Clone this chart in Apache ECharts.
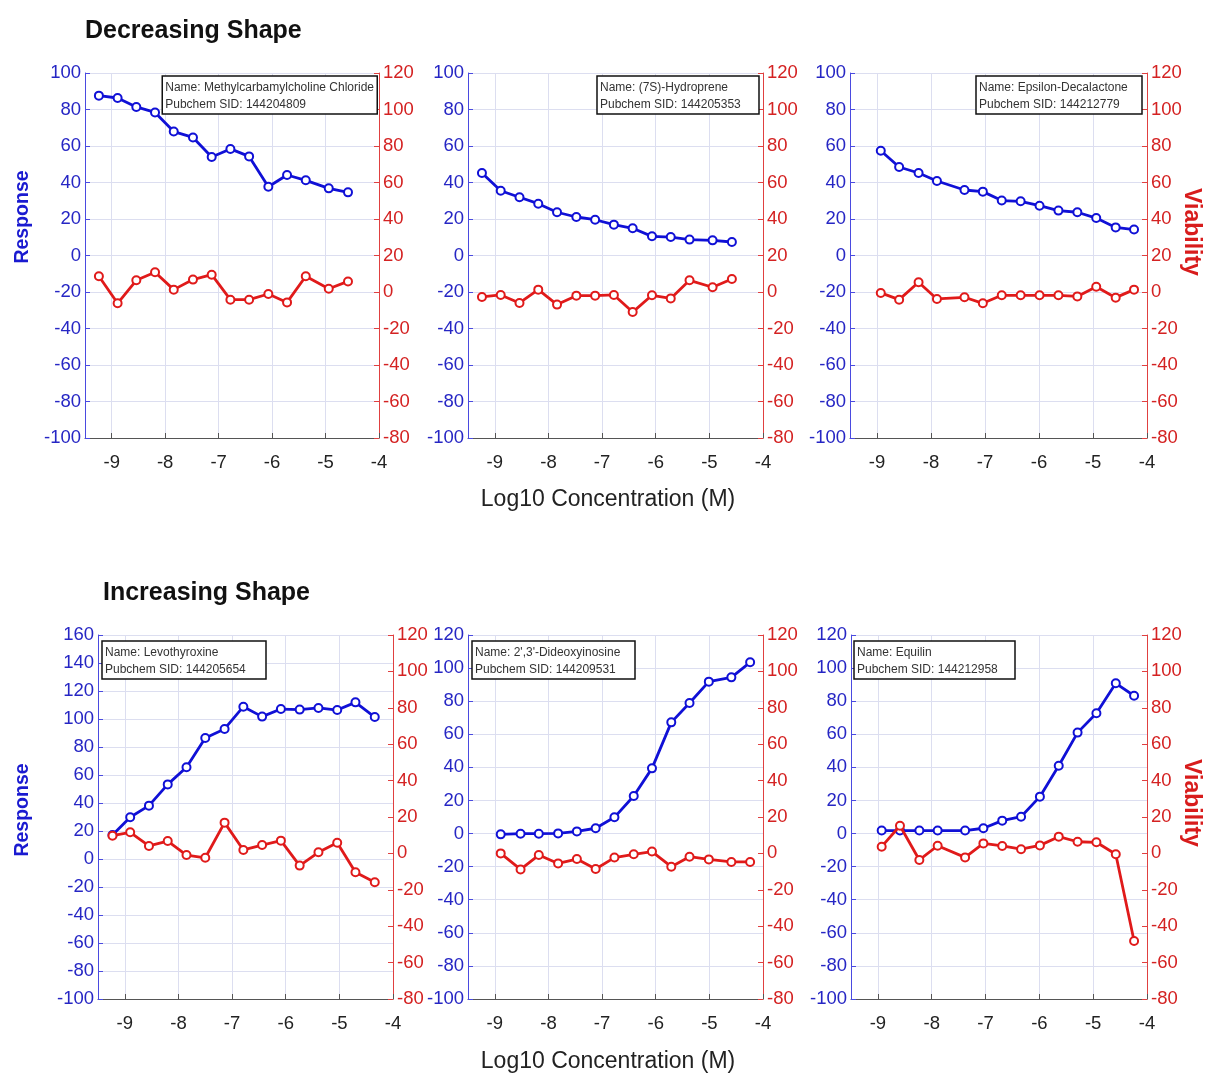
<!DOCTYPE html>
<html>
<head>
<meta charset="utf-8">
<script src="https://cdn.jsdelivr.net/npm/echarts@6/dist/echarts.min.js"></script>
<style>
html,body{margin:0;padding:0;background:#fff;}
#chart{width:1206px;height:1074px;}
</style>
</head>
<body>
<div id="chart"></div>
<script>
// ---------------- data ----------------
const xTicks = [-9, -8, -7, -6, -5, -4];

const concA = [-9.24, -8.89, -8.54, -8.19, -7.84, -7.48, -7.13, -6.78, -6.43, -6.07, -5.72, -5.37, -4.94, -4.58];
const concB = [-8.93, -8.59, -8.23, -7.89, -7.38, -7.04, -6.69, -6.34, -5.99, -5.64, -5.29, -4.94, -4.58, -4.24];
const concC = [-8.89, -8.52, -8.18, -7.82, -7.47, -7.12, -6.77, -6.41, -6.07, -5.71, -5.37, -5.01, -4.59, -4.24];
const concD = [-9.23, -8.90, -8.55, -8.20, -7.85, -7.50, -7.14, -6.79, -6.44, -6.09, -5.74, -5.39, -5.04, -4.70, -4.34];

const p1Resp = [87.6, 86.3, 81.4, 78.4, 67.9, 64.7, 54.0, 58.4, 54.3, 37.7, 44.1, 41.2, 36.8, 34.6];
const p1Via  = [8.6, -6.2, 6.4, 10.8, 1.3, 6.8, 9.5, -4.2, -4.2, -1.1, -5.7, 8.6, 1.8, 5.8];
const p2Resp = [45.2, 35.5, 31.9, 28.4, 23.7, 21.1, 19.6, 16.9, 14.9, 10.5, 10.1, 8.7, 8.3, 7.4];
const p2Via  = [-2.7, -1.6, -6.0, 1.3, -6.9, -2.0, -2.0, -1.6, -11.0, -1.8, -3.5, 6.4, 2.6, 7.1];
const p3Resp = [57.4, 48.5, 45.2, 40.8, 35.9, 35.0, 30.1, 29.7, 27.3, 24.6, 23.7, 20.5, 15.4, 14.2];
const p3Via  = [-0.5, -4.2, 5.3, -3.8, -2.9, -6.2, -1.8, -1.8, -1.8, -1.8, -2.4, 2.9, -3.1, 1.3];
const p4Resp = [17.1, 29.8, 38.1, 53.3, 65.5, 86.4, 92.9, 108.8, 101.7, 107.1, 106.7, 107.9, 106.4, 111.9, 101.4];
const p4Via  = [9.7, 11.6, 4.1, 6.8, -0.9, -2.4, 16.9, 1.9, 4.6, 7.0, -6.7, 0.6, 5.9, -10.4, -15.9];
const p5Resp = [-0.5, -0.1, -0.1, 0.1, 1.3, 3.2, 9.8, 22.7, 39.4, 67.2, 78.9, 91.8, 94.4, 103.5];
const p5Via  = [0.0, -8.8, -0.9, -5.5, -3.1, -8.6, -2.3, -0.5, 1.0, -7.3, -1.8, -3.3, -4.7, -4.7];
const p6Resp = [1.8, 1.8, 1.8, 1.8, 1.8, 3.2, 7.8, 10.2, 22.3, 41.0, 61.0, 72.7, 90.8, 83.3];
const p6Via  = [3.7, 15.2, -3.6, 4.2, -2.2, 5.5, 4.1, 2.3, 4.4, 9.2, 6.4, 6.1, -0.5, -48.1];

const names = ['Methylcarbamylcholine Chloride', '(7S)-Hydroprene', 'Epsilon-Decalactone',
               'Levothyroxine', "2',3'-Dideoxyinosine", 'Equilin'];
const sids  = ['144204809', '144205353', '144212779', '144205654', '144209531', '144212958'];
const leftMax = [100, 100, 100, 160, 120, 120];
const leftMin = -100, rightMin = -80, rightMax = 120, yStep = 20;
const xMin = -9.5, xMax = -4;

const panelX = [concA, concA, concB, concD, concC, concB];
const panelResp = [p1Resp, p2Resp, p3Resp, p4Resp, p5Resp, p6Resp];
const panelVia  = [p1Via, p2Via, p3Via, p4Via, p5Via, p6Via];

// ---------------- layout ----------------
const grids = [
  {left: 85,  top: 73,  width: 294, height: 365},
  {left: 468, top: 73,  width: 295, height: 365},
  {left: 850, top: 73,  width: 297, height: 365},
  {left: 98,  top: 635, width: 295, height: 364},
  {left: 468, top: 635, width: 295, height: 364},
  {left: 851, top: 635, width: 296, height: 364}
];
const boxPos = [
  {right: 829, top: 76, w: 207},
  {right: 447, top: 76, w: 156},
  {right: 64,  top: 76, w: 160},
  {left: 102, top: 641, w: 158},
  {left: 472, top: 641, w: 157},
  {left: 854, top: 641, w: 155}
];

const BLUE = '#1010d6', RED = '#e01a1a';
const BLUE_T = '#2626c4', RED_T = '#d42222';
const GRID = '#dcdef0';
const TICKF = "'Liberation Sans',Arial,sans-serif";
const SANS = "'Liberation Sans',Arial,sans-serif";

const xAxes = [], yAxes = [], series = [], titles = [];
grids.forEach((g, i) => {
  xAxes.push({
    type: 'value', gridIndex: i, min: xMin, max: xMax,
    axisLine: {show: true, onZero: false, lineStyle: {color: '#555', width: 1}},
    axisTick: {show: true, inside: true, length: 5, customValues: xTicks, lineStyle: {color: '#555'}},
    axisLabel: {customValues: xTicks, color: '#222', fontFamily: TICKF, fontSize: 18.5, margin: 15},
    splitLine: {show: true, lineStyle: {color: GRID, width: 1}}
  });
  yAxes.push({
    type: 'value', gridIndex: i, position: 'left', min: leftMin, max: leftMax[i], interval: yStep,
    axisLine: {show: true, onZero: false, lineStyle: {color: '#4a4ae0', width: 1}},
    axisTick: {show: true, inside: true, length: 5, lineStyle: {color: '#4a4ae0'}},
    axisLabel: {color: BLUE_T, fontFamily: TICKF, fontSize: 18.5, margin: 4},
    splitLine: {show: true, lineStyle: {color: GRID, width: 1}}
  });
  yAxes.push({
    type: 'value', gridIndex: i, position: 'right', min: rightMin, max: rightMax, interval: yStep,
    axisLine: {show: true, onZero: false, lineStyle: {color: '#e04040', width: 1}},
    axisTick: {show: true, inside: true, length: 5, lineStyle: {color: '#e04040'}},
    axisLabel: {color: RED_T, fontFamily: TICKF, fontSize: 18.5, margin: 4},
    splitLine: {show: false}
  });
  const xs = panelX[i];
  series.push({
    type: 'line', xAxisIndex: i, yAxisIndex: 2 * i,
    data: xs.map((x, k) => [x, panelResp[i][k]]),
    symbol: 'emptyCircle', symbolSize: 8, showAllSymbol: true,
    lineStyle: {color: BLUE, width: 2.8},
    itemStyle: {color: BLUE, borderColor: BLUE, borderWidth: 2},
    animation: false, z: 3
  });
  series.push({
    type: 'line', xAxisIndex: i, yAxisIndex: 2 * i + 1,
    data: xs.map((x, k) => [x, panelVia[i][k]]),
    symbol: 'emptyCircle', symbolSize: 8, showAllSymbol: true,
    lineStyle: {color: RED, width: 2.8},
    itemStyle: {color: RED, borderColor: RED, borderWidth: 2},
    animation: false, z: 4
  });
  const b = boxPos[i];
  const t = {
    text: 'Name: ' + names[i] + '\nPubchem SID: ' + sids[i],
    top: b.top,
    backgroundColor: '#fff', borderColor: '#111', borderWidth: 1.5,
    padding: [3, 3, 1, 3],
    textStyle: {fontFamily: 'Liberation Sans', fontSize: 12, fontWeight: 'normal', color: '#333', lineHeight: 17, width: b.w},
    z: 10
  };
  if (b.right !== undefined) t.right = b.right; else t.left = b.left;
  titles.push(t);
});

titles.push({text: 'Decreasing Shape', left: 85, top: 19, padding: 0,
  textStyle: {fontFamily: SANS, fontSize: 25, fontWeight: 'bold', color: '#111'}});
titles.push({text: 'Increasing Shape', left: 103, top: 581, padding: 0,
  textStyle: {fontFamily: SANS, fontSize: 25, fontWeight: 'bold', color: '#111'}});

const RESP_FONT = "bold 19.5px 'Liberation Sans', Arial, sans-serif";
const VIA_FONT = "bold 23px 'Liberation Sans', Arial, sans-serif";
const AX_FONT = "23px 'Liberation Sans', Arial, sans-serif";
const graphics = [
  {type: 'text', x: 23, y: 217, rotation: Math.PI / 2,
   style: {text: 'Response', fill: '#1a1ad0', font: RESP_FONT, textAlign: 'center', textVerticalAlign: 'middle'}},
  {type: 'text', x: 23, y: 810, rotation: Math.PI / 2,
   style: {text: 'Response', fill: '#1a1ad0', font: RESP_FONT, textAlign: 'center', textVerticalAlign: 'middle'}},
  {type: 'text', x: 1191, y: 232, rotation: -Math.PI / 2,
   style: {text: 'Viability', fill: '#d81c1c', font: VIA_FONT, textAlign: 'center', textVerticalAlign: 'middle'}},
  {type: 'text', x: 1191, y: 803, rotation: -Math.PI / 2,
   style: {text: 'Viability', fill: '#d81c1c', font: VIA_FONT, textAlign: 'center', textVerticalAlign: 'middle'}},
  {type: 'text', x: 608, y: 500,
   style: {text: 'Log10 Concentration (M)', fill: '#222', font: AX_FONT, textAlign: 'center', textVerticalAlign: 'middle'}},
  {type: 'text', x: 608, y: 1062,
   style: {text: 'Log10 Concentration (M)', fill: '#222', font: AX_FONT, textAlign: 'center', textVerticalAlign: 'middle'}}
];

const chart = echarts.init(document.getElementById('chart'), null, {renderer: 'canvas'});
chart.setOption({
  backgroundColor: '#fff',
  animation: false,
  title: titles,
  grid: grids,
  xAxis: xAxes,
  yAxis: yAxes,
  series: series,
  graphic: graphics
});
</script>
</body>
</html>
